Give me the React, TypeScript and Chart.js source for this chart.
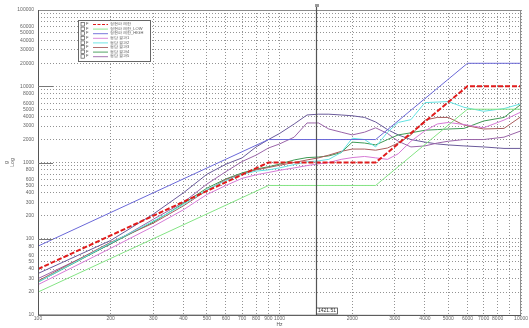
import React, { useEffect, useRef } from 'react';
import { Chart, registerables } from 'chart.js';

Chart.register(...registerables);

// ---------- data ----------
const LIMIT_FREQ = [100, 900, 2500, 6000, 10000];
const SINE_LIMIT = [40, 1000, 1000, 10000, 10000];
const SINE_LOW = [20, 500, 500, 5000, 5000];
const SINE_HIGH = [80, 2000, 2000, 20000, 20000];

const FREQ = [100, 200, 300, 400, 500, 600, 700, 800, 900, 1000, 1150, 1300, 1450, 1600, 1800, 2000, 2250, 2500, 2800, 3100, 3500, 4000, 4500, 5000, 5800, 7000, 8500, 10000];
const RESP_MAGENTA = [25, 75, 145, 240, 380, 500, 620, 690, 740, 790, 850, 910, 960, 1000, 1100, 1160, 1200, 1150, 1100, 1300, 1900, 2600, 3200, 3350, 3150, 2850, 3600, 4600];
const RESP_CYAN = [27, 88, 170, 280, 440, 580, 700, 770, 800, 850, 940, 1020, 1050, 1100, 1350, 2080, 2000, 1600, 2500, 3350, 3650, 6100, 6200, 6300, 5300, 4700, 5100, 5900];
const RESP_BROWN = [28, 90, 160, 270, 430, 600, 710, 800, 860, 920, 1000, 1080, 1150, 1250, 1400, 1500, 1500, 1450, 1550, 1800, 2300, 3600, 3900, 3900, 3100, 2750, 2800, 4000];
const RESP_GREEN = [27, 86, 165, 290, 460, 610, 730, 820, 880, 950, 1080, 1160, 1180, 1220, 1350, 1850, 1800, 1700, 2000, 2300, 2450, 2650, 2700, 2750, 2800, 3500, 3900, 5800];
const RESP_PURPLE = [30, 85, 180, 300, 520, 760, 1030, 1250, 1550, 1750, 2150, 3300, 3300, 2750, 2500, 2300, 2500, 2850, 2400, 1900, 1600, 1650, 1800, 1900, 2000, 2000, 2150, 2600];
const RESP_NAVY = [35, 95, 210, 400, 700, 950, 1150, 1600, 2000, 2400, 3200, 4200, 4300, 4300, 4200, 4100, 3900, 3400, 2700, 2300, 2000, 1850, 1750, 1700, 1650, 1600, 1530, 1530];

const LEGEND_NAMES = ['정현파 제한', '정현파 제한_LOW', '정현파 제한_HIGH', '응답 결과1', '응답 결과2', '응답 결과3', '응답 결과4', '응답 결과5'];

const X_GRID = [100, 200, 300, 400, 500, 600, 700, 800, 900, 1000, 2000, 3000, 4000, 5000, 6000, 7000, 8000, 9000, 10000];
const X_LABELS = [100, 200, 300, 400, 500, 600, 700, 800, 900, 1000, 2000, 3000, 4000, 5000, 6000, 7000, 8000, 10000];
const Y_LABELS = [10, 20, 30, 40, 50, 60, 80, 100, 200, 300, 400, 500, 600, 800, 1000, 2000, 3000, 4000, 5000, 6000, 8000, 10000, 20000, 30000, 40000, 50000, 60000, 100000];
const CURSOR_HZ = 1421.51;

function yGrid(): number[] {
  const out: number[] = [];
  for (let d = 10; d < 100000; d *= 10) for (let m = 1; m < 10; m++) out.push(d * m);
  out.push(100000);
  return out;
}

function pts(xs: number[], ys: number[]) {
  return xs.map((x, i) => ({ x, y: ys[i] }));
}

const FONT = 'Liberation Sans, Arial, sans-serif';

const framePlugin = {
  id: 'frameAndExtras',
  afterDatasetsDraw(chart: any) {
    const { ctx, chartArea: a, scales } = chart;
    ctx.save();
    ctx.strokeStyle = '#8a8a8a';
    ctx.lineWidth = 1;
    ctx.setLineDash([]);
    ctx.strokeRect(a.left + 0.5, a.top + 0.5, a.right - a.left - 1, a.bottom - a.top);
    ctx.strokeStyle = '#555';
    ctx.beginPath();
    ctx.moveTo(a.left + 0.5, a.top);
    ctx.lineTo(a.left + 0.5, a.bottom);
    ctx.lineTo(a.right, a.bottom + 0.5);
    ctx.stroke();
    ctx.strokeStyle = '#777';
    [100, 1000, 10000].forEach((v) => {
      const y = Math.round(scales.y.getPixelForValue(v)) + 0.5;
      ctx.beginPath();
      ctx.moveTo(a.left, y);
      ctx.lineTo(a.left + 15, y);
      ctx.stroke();
    });
    const cx = Math.round(scales.x.getPixelForValue(CURSOR_HZ)) + 0.5;
    ctx.strokeStyle = '#555';
    ctx.lineWidth = 1.2;
    ctx.beginPath();
    ctx.moveTo(cx, a.top - 5);
    ctx.lineTo(cx, a.bottom);
    ctx.stroke();
    ctx.fillStyle = '#999';
    ctx.fillRect(cx - 1.5, a.top - 6, 4, 3);
    ctx.font = `5px ${FONT}`;
    const txt = String(CURSOR_HZ);
    const tw = ctx.measureText(txt).width;
    ctx.fillStyle = '#fff';
    ctx.fillRect(cx, a.bottom - 7, tw + 3, 6);
    ctx.strokeStyle = '#444';
    ctx.lineWidth = 0.8;
    ctx.strokeRect(cx, a.bottom - 7, tw + 3, 6);
    ctx.fillStyle = '#333';
    ctx.textBaseline = 'middle';
    ctx.fillText(txt, cx + 1.5, a.bottom - 4);
    ctx.restore();
  },
  afterDraw(chart: any) {
    const { ctx, chartArea: a } = chart;
    const ds = chart.data.datasets.slice(0, LEGEND_NAMES.length);
    const bx = a.left + 40, by = a.top + 10, bw = 72, bh = 41;
    ctx.save();
    ctx.fillStyle = '#fff';
    ctx.fillRect(bx, by, bw, bh);
    ctx.strokeStyle = '#666';
    ctx.lineWidth = 1;
    ctx.setLineDash([]);
    ctx.strokeRect(bx + 0.5, by + 0.5, bw, bh);
    ctx.font = `4px ${FONT}`;
    ctx.textBaseline = 'middle';
    ds.forEach((d: any, i: number) => {
      const y = by + 4 + i * 4.6;
      ctx.strokeStyle = '#555';
      ctx.lineWidth = 0.7;
      ctx.setLineDash([]);
      ctx.strokeRect(bx + 3, y - 1.5, 3.5, 3.5);
      ctx.fillStyle = '#444';
      ctx.fillText('F', bx + 8, y);
      ctx.strokeStyle = d.borderColor;
      ctx.lineWidth = d.borderWidth > 1 ? 1.2 : 0.9;
      ctx.setLineDash(d.borderDash ? [3, 1.5] : []);
      ctx.beginPath();
      ctx.moveTo(bx + 15, y + 0.5);
      ctx.lineTo(bx + 30, y + 0.5);
      ctx.stroke();
      ctx.fillStyle = '#555';
      ctx.fillText(d.label, bx + 32, y);
    });
    ctx.restore();
  },
};

export default function App() {
  const ref = useRef<HTMLCanvasElement>(null);
  useEffect(() => {
    document.body.style.margin = '0';
    const canvas = ref.current!;
    const line = (label: string, xs: number[], ys: number[], color: string, extra: any = {}) => ({
      label,
      data: pts(xs, ys),
      borderColor: color,
      backgroundColor: color,
      borderWidth: 1,
      pointRadius: 0,
      tension: 0,
      fill: false,
      ...extra,
    });
    const chart = new Chart(canvas, {
      type: 'line',
      data: {
        datasets: [
          line(LEGEND_NAMES[0], LIMIT_FREQ, SINE_LIMIT, '#e01c1c', { borderWidth: 2, borderDash: [5, 2] }),
          line(LEGEND_NAMES[1], LIMIT_FREQ, SINE_LOW, '#84e484'),
          line(LEGEND_NAMES[2], LIMIT_FREQ, SINE_HIGH, '#6a68d8'),
          line(LEGEND_NAMES[3], FREQ, RESP_MAGENTA, '#d67ad6'),
          line(LEGEND_NAMES[4], FREQ, RESP_CYAN, '#62e2e2'),
          line(LEGEND_NAMES[5], FREQ, RESP_BROWN, '#a85c5c'),
          line(LEGEND_NAMES[6], FREQ, RESP_GREEN, '#3f9a55'),
          line(LEGEND_NAMES[7], FREQ, RESP_PURPLE, '#9a64a8'),
          line('', FREQ, RESP_NAVY, '#6a5a9a'),
        ],
      },
      options: {
        animation: false,
        responsive: false,
        maintainAspectRatio: false,
        layout: { padding: { top: 10, right: 5, left: 0, bottom: 0 } },
        plugins: { legend: { display: false }, tooltip: { enabled: false } },
        scales: {
          x: {
            type: 'logarithmic',
            min: 100,
            max: 10000,
            afterBuildTicks: (s: any) => { s.ticks = X_GRID.map((v) => ({ value: v })); },
            afterFit: (s: any) => { s.height = 13; },
            ticks: {
              autoSkip: false,
              maxRotation: 0,
              padding: 1,
              color: '#666',
              font: { size: 5, family: FONT },
              callback: (v: any) => (X_LABELS.includes(Number(v)) ? String(v) : ''),
            },
            grid: { color: '#777', lineWidth: 0.8, drawTicks: false },
            border: { display: false, dash: [1, 2] },
            title: { display: true, text: 'Hz', color: '#555', font: { size: 5, family: FONT }, padding: 0 },
          },
          y: {
            type: 'logarithmic',
            min: 10,
            max: 100000,
            afterBuildTicks: (s: any) => { s.ticks = yGrid().map((v) => ({ value: v })); },
            afterFit: (s: any) => { s.width = 38; },
            ticks: {
              autoSkip: false,
              padding: 4,
              color: '#666',
              font: { size: 5, family: FONT },
              callback: (v: any) => (Y_LABELS.includes(Number(v)) ? String(v) : ''),
            },
            grid: { color: '#777', lineWidth: 0.8, drawTicks: false },
            border: { display: false, dash: [1, 2] },
            title: { display: true, text: ['g', 'Log'], color: '#555', font: { size: 5, family: FONT }, padding: 4 },
          },
        },
      },
      plugins: [framePlugin],
    } as any);
    return () => chart.destroy();
  }, []);
  return (
    <div style={{ width: 529, height: 328, background: '#fff' }}>
      <canvas ref={ref} width={529} height={328} style={{ display: 'block' }} />
    </div>
  );
}
